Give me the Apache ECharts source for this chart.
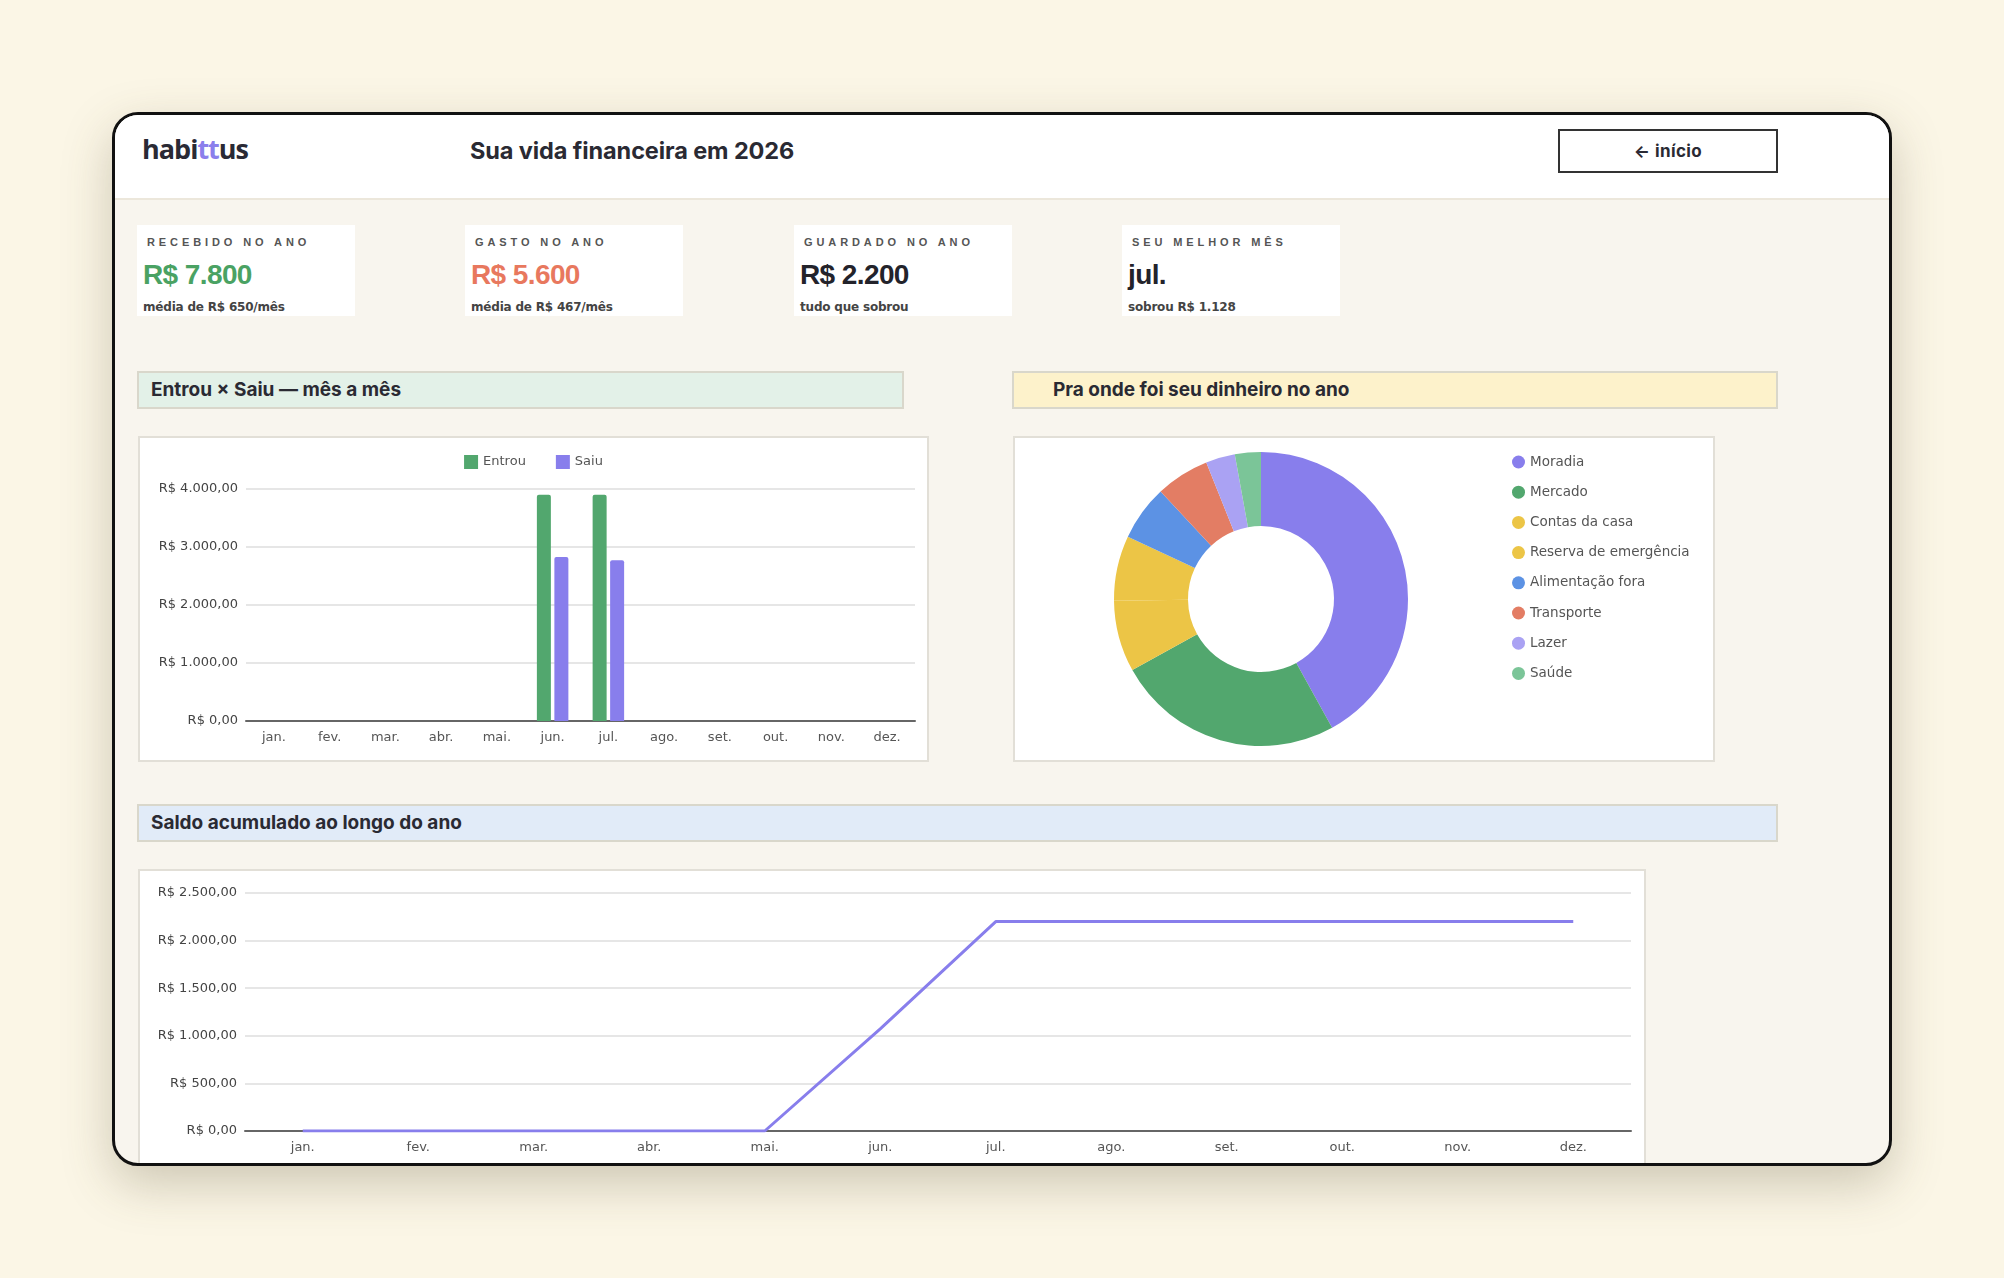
<!DOCTYPE html>
<html lang="pt-BR">
<head>
<meta charset="utf-8">
<title>habittus - Sua vida financeira em 2026</title>
<script src="https://cdn.jsdelivr.net/npm/echarts@6/dist/echarts.min.js"></script>
<style>
  html, body { margin: 0; padding: 0; }
  body {
    width: 2004px; height: 1278px; overflow: hidden;
    background: #fbf6e6;
    font-family: "Liberation Sans", Arial, sans-serif;
    color: #2a2a33;
    position: relative;
  }
  .frame {
    position: absolute; left: 112px; top: 112px;
    width: 1780px; height: 1054px; box-sizing: border-box;
    border: 3px solid #111; border-radius: 26px;
    background: #f8f5ee; overflow: hidden;
    box-shadow: 0 18px 50px rgba(90, 80, 50, 0.28);
  }
  .top {
    position: absolute; left: 0; top: 0; right: 0; height: 83px;
    background: #fff; border-bottom: 2px solid #ece7db;
  }
  .logo {
    position: absolute; left: 27px; top: 15px;
    font-family: "Open Sans", sans-serif; font-weight: 700; font-size: 27px;
    letter-spacing: -1px; color: #2a2a35;
  }
  .logo span { color: #8b7fec; }
  .title {
    position: absolute; left: 355px; top: 21px;
    font-family: Inter, sans-serif; font-weight: 700; font-size: 23.5px;
    letter-spacing: -0.1px; color: #2a2a33;
  }
  .btn {
    position: absolute; left: 1443px; top: 14px; width: 220px; height: 44px;
    box-sizing: border-box; border: 2px solid #333; background: #fff;
    font-family: Inter, sans-serif; font-weight: 700; font-size: 17px;
    letter-spacing: 0.4px; line-height: 40px; text-align: center; color: #2a2a33;
  }
  .card {
    position: absolute; top: 110px; width: 218px; height: 91px;
    background: #fff;
  }
  .card .lab {
    position: absolute; left: 10px; top: 11px;
    font-size: 11px; font-weight: 700; letter-spacing: 3.9px; color: #555;
  }
  .card .val {
    position: absolute; left: 6px; top: 34px;
    font-size: 28px; font-weight: 700; letter-spacing: -0.6px;
  }
  .card .sub {
    position: absolute; left: 6px; top: 75px;
    font-family: "DejaVu Sans", sans-serif;
    font-size: 12px; font-weight: 700; letter-spacing: -0.2px; color: #444;
  }
  .sec {
    position: absolute; height: 38px; box-sizing: border-box;
    border: 2px solid #d9d7cb;
    font-family: Inter, sans-serif; font-weight: 700; font-size: 19px;
    letter-spacing: 0; line-height: 34px; color: #2a2a33;
  }
  .box {
    position: absolute; background: #fff; box-sizing: border-box;
    border: 2px solid #e2dfd7;
  }
</style>
</head>
<body>
<div class="frame">
  <div class="top">
    <div class="logo">habi<span>tt</span>us</div>
    <div class="title">Sua vida financeira em 2026</div>
    <div class="btn">← início</div>
  </div>

  <div class="card" style="left:22px">
    <div class="lab">RECEBIDO NO ANO</div>
    <div class="val" style="color:#4aa263">R$ 7.800</div>
    <div class="sub">média de R$ 650/mês</div>
  </div>
  <div class="card" style="left:350px">
    <div class="lab">GASTO NO ANO</div>
    <div class="val" style="color:#e8785e">R$ 5.600</div>
    <div class="sub">média de R$ 467/mês</div>
  </div>
  <div class="card" style="left:679px">
    <div class="lab">GUARDADO NO ANO</div>
    <div class="val" style="color:#23232b">R$ 2.200</div>
    <div class="sub">tudo que sobrou</div>
  </div>
  <div class="card" style="left:1007px">
    <div class="lab">SEU MELHOR MÊS</div>
    <div class="val" style="color:#23232b">jul.</div>
    <div class="sub">sobrou R$ 1.128</div>
  </div>

  <div class="sec" style="left:22px;top:256px;width:767px;background:#e3f1e8;padding-left:12px">Entrou × Saiu — mês a mês</div>
  <div class="sec" style="left:897px;top:256px;width:766px;background:#fdf2cb;padding-left:39px">Pra onde foi seu dinheiro no ano</div>

  <div class="box" id="barras" style="left:23px;top:321px;width:791px;height:326px"></div>
  <div class="box" id="pizza" style="left:898px;top:321px;width:702px;height:326px"></div>

  <div class="sec" style="left:22px;top:689px;width:1641px;background:#e1ebf8;padding-left:12px">Saldo acumulado ao longo do ano</div>

  <div class="box" id="saldo" style="left:23px;top:754px;width:1508px;height:320px"></div>
</div>

<script>
var meses = ['jan.', 'fev.', 'mar.', 'abr.', 'mai.', 'jun.', 'jul.', 'ago.', 'set.', 'out.', 'nov.', 'dez.'];
var entrou = [0, 0, 0, 0, 0, 3900, 3900, 0, 0, 0, 0, 0];
var saiu = [0, 0, 0, 0, 0, 2828, 2772, 0, 0, 0, 0, 0];
var saldoAcum = [0, 0, 0, 0, 0, 1072, 2200, 2200, 2200, 2200, 2200, 2200];

var categorias = ['Moradia', 'Mercado', 'Contas da casa', 'Reserva de emergência',
  'Alimentação fora', 'Transporte', 'Lazer', 'Saúde'];
var gastos = [2350, 1400, 440, 400, 340, 330, 180, 160];
var coresCat = ['#887eec', '#52a76e', '#ecc546', '#ecc546', '#5c92e4', '#e37d64', '#aaa2f3', '#7bc598'];

var fonte = '"DejaVu Sans", sans-serif';

function reais(v) {
  var s = v.toFixed(2).split('.');
  var inteiro = s[0].replace(/\B(?=(\d{3})+(?!\d))/g, '.');
  return 'R$ ' + inteiro + ',' + s[1];
}

// barras entrou x saiu
function showBarras() {
  var myChart = echarts.init(document.getElementById('barras'));
  var option = {
    animation: false,
    textStyle: { fontFamily: fonte },
    legend: {
      data: ['Entrou', 'Saiu'],
      top: 12,
      left: 'center',
      itemWidth: 14,
      itemHeight: 14,
      itemGap: 30,
      icon: 'rect',
      textStyle: { fontSize: 13, color: '#555' }
    },
    grid: { left: 106, right: 12, top: 51, bottom: 39 },
    xAxis: {
      type: 'category',
      data: meses,
      axisTick: { show: false },
      axisLine: { lineStyle: { color: '#666', width: 2 } },
      axisLabel: { fontSize: 13, color: '#555', margin: 10 }
    },
    yAxis: {
      type: 'value',
      min: 0,
      max: 4000,
      interval: 1000,
      axisLabel: { fontSize: 13, color: '#444', formatter: reais, margin: 8 },
      splitLine: { lineStyle: { color: '#e6e6e6', width: 2 } }
    },
    series: [{
      name: 'Entrou',
      type: 'bar',
      data: entrou,
      barWidth: 14,
      barGap: '25%',
      itemStyle: { color: '#52a76e', borderRadius: [2, 2, 0, 0] }
    }, {
      name: 'Saiu',
      type: 'bar',
      data: saiu,
      barWidth: 14,
      itemStyle: { color: '#887eec', borderRadius: [2, 2, 0, 0] }
    }]
  };
  myChart.setOption(option);
}

// rosca das categorias
function showPizza() {
  var myChart = echarts.init(document.getElementById('pizza'));
  var dados = categorias.map(function (c, i) {
    return { name: c, value: gastos[i], itemStyle: { color: coresCat[i] } };
  });
  var option = {
    animation: false,
    textStyle: { fontFamily: fonte },
    legend: {
      orient: 'vertical',
      left: 492,
      top: 12,
      icon: 'circle',
      itemWidth: 13,
      itemHeight: 13,
      itemGap: 16.2,
      textStyle: { fontSize: 13.5, color: '#555' },
      data: categorias
    },
    series: [{
      type: 'pie',
      center: [246, 161],
      radius: [73, 147],
      startAngle: 90,
      clockwise: true,
      label: { show: false },
      labelLine: { show: false },
      data: dados
    }]
  };
  myChart.setOption(option);
}

// linha do saldo acumulado
function showSaldo() {
  var myChart = echarts.init(document.getElementById('saldo'));
  var option = {
    animation: false,
    textStyle: { fontFamily: fonte },
    grid: { left: 105, right: 13, top: 22, bottom: 56 },
    xAxis: {
      type: 'category',
      data: meses,
      axisTick: { show: false },
      axisLine: { lineStyle: { color: '#666', width: 2 } },
      axisLabel: { fontSize: 13, color: '#555', margin: 10 }
    },
    yAxis: {
      type: 'value',
      min: 0,
      max: 2500,
      interval: 500,
      axisLabel: { fontSize: 13, color: '#444', formatter: reais, margin: 8 },
      splitLine: { lineStyle: { color: '#e6e6e6', width: 2 } }
    },
    series: [{
      type: 'line',
      data: saldoAcum,
      showSymbol: false,
      lineStyle: { color: '#887eec', width: 3 },
      itemStyle: { color: '#887eec' }
    }]
  };
  myChart.setOption(option);
}

showBarras();
showPizza();
showSaldo();
</script>
</body>
</html>
